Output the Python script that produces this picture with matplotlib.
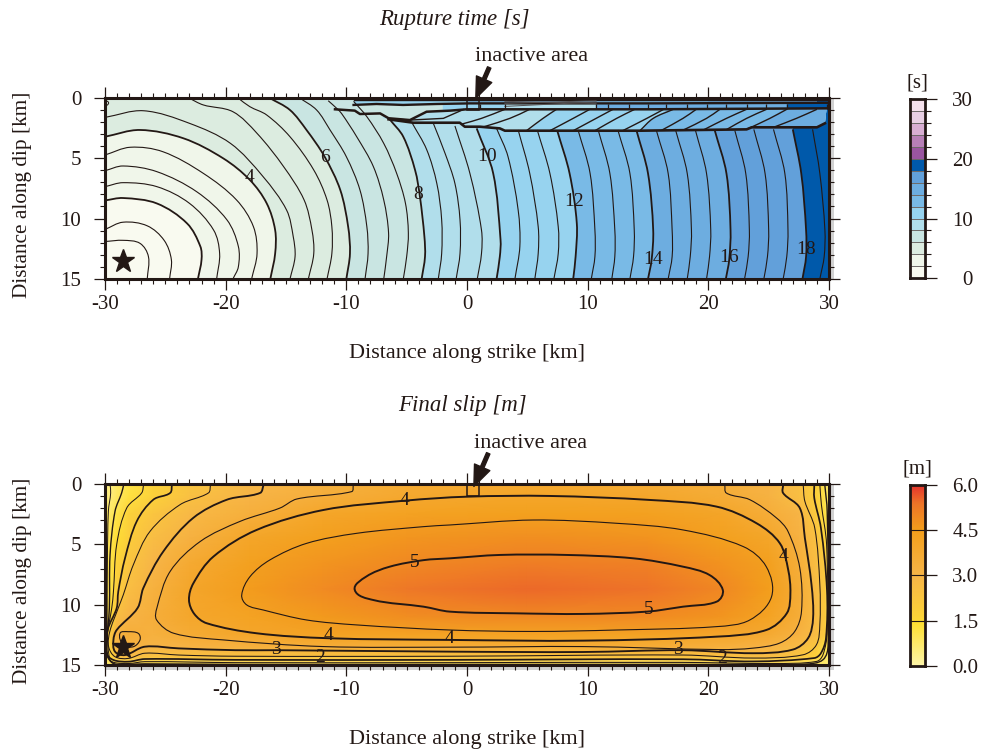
#!/usr/bin/env python3
"""plot.py - rupture time and final slip on the fault plane, two panels with colour bars."""

import numpy as np
import matplotlib
matplotlib.use("Agg")
import matplotlib.pyplot as plt
from matplotlib.colors import LinearSegmentedColormap, Normalize
from matplotlib.patches import PathPatch, Polygon, Rectangle
from matplotlib.path import Path
from matplotlib.ticker import MultipleLocator

plt.rcParams.update({
    "font.family": ["Liberation Serif", "DejaVu Serif"],
    "mathtext.fontset": "stix",
})

INK = "#231815"
SHADOW = "#d2d2d2"

# ── Rupture time: contours as (distance along strike, depth) ──
TIME_LEVELS = [1.0, 1.5, 2.0, 2.5, 3.0, 3.5, 4.0, 4.5, 5.0, 5.5, 6.0, 6.5, 7.0, 7.5, 8.0, 8.5,
               9.0, 9.5, 10.0, 10.5, 11.0, 11.5, 12.0, 12.5, 13.0, 13.5, 14.0, 14.5, 15.0, 15.5,
               16.0, 16.5, 17.0, 17.5, 18.0, 18.5]
TIME_CONTOURS = [
    [(-30, 11.9), (-28.5, 11.8), (-27.1, 12.05), (-26.4, 13.15), (-26.5, 15)],
    [(-30, 10.9), (-28.5, 10.3), (-26.5, 10.6), (-25.1, 11.8), (-24.5, 13.4), (-24.65, 15)],
    [(-30, 8.5), (-28.5, 8.3), (-25.7, 8.75), (-23.2, 10.4), (-22.1, 12.3), (-22, 13.4), (-22.3, 15)],
    [(-30, 7.36), (-28.5, 7.03), (-25.7, 7.36), (-23, 8.74), (-21, 10.95), (-20.5, 12.9), (-20.75, 15)],
    [(-30, 6.04), (-28.5, 5.65), (-25.7, 6.12), (-22.4, 7.78), (-19.9, 10.1), (-18.95, 12.3), (-18.95, 14), (-19.4, 15)],
    [(-30, 4.74), (-27.9, 4.1), (-25.2, 4.47), (-21.85, 6.26), (-19.1, 8.46), (-17.7, 10.67), (-17.4, 12.9), (-17.85, 15)],
    [(-30, 3.23), (-27.1, 2.67), (-23.5, 3.36), (-20.2, 5.02), (-18, 6.8), (-16.6, 8.74), (-15.9, 10.95), (-15.9, 12.9), (-16.3, 15)],
    [(-30, 1.63), (-26.8, 1.08), (-23, 2.12), (-19.6, 3.78), (-16.9, 6.53), (-14.95, 9.3), (-14.4, 11.5), (-14.25, 13.15), (-14.67, 15)],
    [(-23.1, 0), (-21.85, 0.6), (-19.4, 1.16), (-17.4, 2.95), (-15.2, 5.7), (-13.5, 8.46), (-12.85, 10.95), (-12.7, 12.9), (-13.15, 15)],
    [(-19, 0), (-18, 0.74), (-16.6, 1.43), (-14.67, 3.23), (-12.7, 5.98), (-11.6, 8.46), (-11.2, 10.67), (-11.2, 12.9), (-11.6, 15)],
    [(-16.4, 0), (-14.67, 1.02), (-13.3, 2.67), (-11.8, 4.88), (-10.5, 7.64), (-9.85, 10.67), (-9.7, 12.9), (-10, 15)],
    [(-13.9, 0), (-12.46, 1.02), (-11.35, 2.67), (-10, 4.88), (-8.87, 7.64), (-8.3, 10.67), (-8.2, 12.9), (-8.45, 15)],
    [(-11.5, 0.25), (-10.8, 0.88), (-10.4, 1.3), (-9.14, 3.23), (-7.76, 5.7), (-6.9, 8.46), (-6.5, 11.2), (-6.66, 13.15), (-6.9, 15)],
    [(-9.4, 0.3), (-8.3, 1.57), (-6.9, 3.78), (-5.83, 6.26), (-5.1, 8.74), (-4.86, 11.2), (-5, 13.15), (-5.28, 15)],
    [(-6.4, 1.8), (-5.28, 3.23), (-4.3, 6), (-3.9, 8.2), (-3.53, 11.5), (-3.48, 13.15), (-3.76, 15)],
    [(-4.6, 2), (-3.34, 4.3), (-2.5, 7.1), (-2.1, 10.1), (-2.1, 12.9), (-2.38, 15)],
    [(-2.8, 2.1), (-1.82, 4.6), (-1, 7.1), (-0.58, 10.1), (-0.58, 12.9), (-0.9, 15)],
    [(-1, 2.34), (0.24, 6.26), (1.2, 10.95), (1.2, 12.9), (0.85, 15)],
    [(0.8, 2.54), (2.17, 6.26), (2.78, 11.77), (2.72, 13.15), (2.45, 15)],
    [(2.45, 2.54), (3.4, 4.88), (4.24, 9.3), (4.38, 12.3), (3.97, 15)],
    [(4.24, 2.67), (5.2, 6.26), (5.9, 10.67), (5.9, 12.9), (5.62, 15)],
    [(5.82, 2.67), (6.87, 6.26), (7.56, 10.67), (7.56, 12.9), (7.2, 15)],
    [(7.5, 2.8), (8.5, 6.26), (9.1, 10.4), (9, 13.15), (8.8, 15)],
    [(9.2, 2.67), (10.2, 6.26), (10.6, 10.95), (10.6, 13.15), (10.3, 15)],
    [(10.87, 2.67), (11.84, 6.26), (12.25, 10.95), (12.25, 13.15), (12, 15)],
    [(12.5, 2.67), (13.5, 6.26), (13.86, 10.95), (13.8, 13.15), (13.5, 15)],
    [(14.05, 2.73), (15, 6.26), (15.43, 10.95), (15.3, 13.4), (15, 15)],
    [(15.7, 2.73), (16.67, 6.26), (17, 10.95), (17, 13.15), (16.67, 15)],
    [(17.3, 2.73), (18.25, 6.26), (18.6, 10.95), (18.5, 13.15), (18.25, 15)],
    [(18.94, 2.73), (19.85, 6.26), (20.2, 10.95), (20.1, 13.15), (19.85, 15)],
    [(20.54, 2.73), (21.5, 6.26), (21.84, 10.95), (21.73, 13.4), (21.45, 15)],
    [(22.2, 2.73), (23.1, 6.26), (23.4, 10.95), (23.3, 13.15), (23, 15)],
    [(23.77, 2.62), (24.7, 6.26), (25, 10.95), (24.9, 13.15), (24.6, 15)],
    [(25.4, 2.62), (26.34, 6.26), (26.6, 10.95), (26.5, 13.15), (26.2, 15)],
    [(27, 2.62), (27.7, 6.26), (28.1, 10.95), (28.1, 13.15), (27.8, 15)],
    [(28.64, 2.62), (29.24, 6.26), (29.66, 10.95), (29.6, 13.15), (29.24, 15)],
]

# the discontinuity near the surface
LOWER_BREAK = [(-6.5, 1.79), (-4.45, 2.07), (-2.8, 2.07), (-0.6, 2.07), (-0.18, 2.4), (1.07, 2.4), (2.72, 2.54),
               (3.14, 2.73), (14.33, 2.73), (23.17, 2.62), (23.6, 2.45), (29, 2.45), (29.66, 2.12)]
UPPER_BREAK = [(-10.94, 0.96), (-9.3, 1.07), (-8.87, 1.35), (-7.2, 1.3), (-6.5, 1.7), (-4.73, 1.85), (-3.35, 1.16),
               (-1.4, 1.07), (-0.04, 0.96), (15.15, 0.96), (29.8, 0.88)]
MIDDLE_BREAK = [(-6.4, 1.74), (-4.7, 1.85), (-1.96, 1.71), (-0.3, 0.98)]
STRIP_LINE = [(-9.4, 0.6), (-7.5, 0.52), (-5.3, 0.6), (-2.5, 0.52), (0.24, 0.47), (15, 0.47), (30, 0.42)]
SURFACE_LINE = [(-9.4, 0.19), (30, 0.19)]
FAN_LINES = [[(3.14, 0.3), (10.7, 0.47)], [(3.14, 0.47), (10.7, 0.25)], [(3.14, 0.72), (10.7, 0.35)]]
STRIP_TICKS_X = [1.07, 3.14, 10.7, 11.7, 13.4, 15, 16.5, 18.2, 19.9, 21.5, 23.2, 24.8, 26.5, 29.8]

SLANT_LOW = [-0.45, 1.34, 4.93, 6.87, 8.8, 10.6, 12.9, 14.33, 16.1, 17.9, 19.6, 21.5, 23.17, 25.4]
SLANT_MID = [1.2, 3.55, 6.3, 8.8, 10.7, 12.4, 14.9, 15.43, 17.9, 19.85, 21.5, 23.17, 25.1, 27.3]
SLANT_TOP = [3.14, 5.2, 7.42, 10.18, 12.1, 13.9, 16.3, 17.1, 19, 20.96, 23.17, 24.83, 26.5, 29]

TIME_EDGES = [0, 2, 4, 6, 8, 10, 12, 14, 16, 18, 20, 22, 24, 26, 28, 30]
TIME_COLORS = ["#f9faf0", "#f0f6ea", "#dcece0", "#c9e5e2", "#b1deeb", "#97d3ef", "#79bae6", "#6dade0",
               "#62a0da", "#0059aa", "#9a55a0", "#b77fb6", "#d8aed2", "#e8cfe3", "#f5e1ec"]

TIME_LABELS = ["4", "6", "8", "10", "12", "14", "16", "18"]
TIME_LABEL_X = [-18.04, -11.77, -4.03, 1.62, 8.86, 15.4, 21.7, 28.1]
TIME_LABEL_Z = [6.6, 4.94, 7.97, 4.88, 8.6, 13.37, 13.23, 12.6]

# ── Final slip: values at grid nodes and contours ──
SLIP_X = [-30, -29.5, -29, -28, -26, -23, -18, -12, -5, 5, 15, 21, 25, 27.5, 29, 29.7, 30]
SLIP_Z = [0, 1, 2.5, 4.5, 6.5, 8.7, 11, 12.5, 13.5, 14.3, 15]
SLIP_VALUES = [
    [.4, .5, .8, 1.15, 1.7, 2.25, 2.9, 3.3, 3.7, 3.85, 3.7, 3.5, 3.1, 2.6, 1.8, .95, .5],
    [.45, .55, .85, 1.25, 1.75, 2.45, 3.05, 3.45, 3.85, 4.05, 3.95, 3.6, 3.2, 2.55, 1.8, 1.1, .5],
    [.7, .85, 1.15, 1.75, 2.25, 2.8, 3.4, 4.05, 4.3, 4.45, 4.35, 4.1, 3.55, 3.05, 2.0, 1.2, .7],
    [.8, 1.1, 1.45, 1.9, 2.65, 3.25, 4.05, 4.45, 4.7, 4.85, 4.75, 4.45, 4.05, 3.25, 2.4, 1.6, .9],
    [.8, 1.2, 1.65, 2.25, 3.0, 3.75, 4.35, 4.7, 4.95, 5.2, 5.1, 4.75, 4.4, 3.5, 2.55, 2.05, .8],
    [.8, 1.2, 1.9, 2.6, 3.3, 4.0, 4.55, 4.9, 5.3, 5.5, 5.4, 5.0, 4.5, 3.6, 2.7, 2.1, .5],
    [.9, 1.5, 2.6, 3.1, 3.45, 3.95, 4.25, 4.6, 4.85, 4.95, 4.9, 4.7, 4.25, 3.55, 2.7, 2.05, 1.0],
    [1.0, 2.4, 3.2, 3.55, 3.3, 3.65, 4.0, 4.2, 4.25, 4.25, 4.2, 4.0, 3.75, 3.2, 2.65, 2.0, 1.0],
    [1.0, 2.0, 2.9, 3.2, 3.05, 3.15, 3.3, 3.5, 3.55, 3.55, 3.55, 3.35, 3.1, 2.7, 2.1, 1.2, .8],
    [.8, 1.7, 2.6, 2.7, 2.4, 2.4, 2.4, 2.4, 2.4, 2.4, 2.4, 2.4, 2.6, 2.3, 1.7, .9, .6],
    [.5, .7, .9, 1.0, .9, .85, .8, .8, .8, .8, .8, .8, .8, .8, .7, .6, .5],
]

SLIP_LEVELS = [0.5, 1.0, 1.5, 2.0, 2.5, 3.0, 3.5, 3.5, 4.0, 4.5, 5.0]
SLIP_CONTOURS = [
    [(-29.58, 0.05), (-29.53, 0.74), (-29.72, 2.26), (-29.8, 6.4), (-29.8, 12.5), (-29.6, 14.5), (-29.2, 14.95)],
    [(-28.45, 0.05), (-28.62, 0.74), (-29.17, 2.26), (-29.58, 5.85), (-29.64, 10.26), (-29.85, 13.6), (-29.6, 14.6),
     (-29, 14.93), (-26.7, 14.88), (-19, 14.93), (-1.4, 14.93), (17, 14.93), (23, 14.93), (28, 14.9), (29.5, 14.54),
     (29.93, 13.3), (29.85, 2.26), (29.65, 0.05)],
    [(-26.8, 0.05), (-26.96, 0.74), (-28.2, 1.99), (-29.03, 5), (-29.3, 8.9), (-29.44, 10.26), (-29.9, 13), (-29.8, 14.3),
     (-29.3, 14.75), (-28, 14.85), (-26.7, 14.7), (-19.2, 14.78), (-1.4, 14.78), (17.9, 14.76), (25.37, 14.85),
     (28.96, 14.68), (29.5, 14.13), (29.85, 12.2), (29.8, 5), (29.37, 1.71), (29.24, 0.05)],
    [(-24.45, 0.05), (-24.6, 0.74), (-26, 1.3), (-27.37, 3.09), (-28.34, 6.13), (-28.9, 8.9), (-29.03, 10.26), (-29.78, 12.08),
     (-29.86, 14), (-29.3, 14.56), (-28.07, 14.7), (-26.7, 14.48), (-19.2, 14.55), (-1.4, 14.55), (17.9, 14.5), (23.7, 14.68),
     (28.78, 14.4), (29.33, 14), (29.75, 12.75), (29.83, 8.75), (29.33, 3.64), (28.78, 1.16), (28.78, 0.05)],
    [(-21.25, 0.05), (-21.43, 0.74), (-23.78, 1.71), (-26.27, 3.92), (-27.65, 6.68), (-28.48, 9.16), (-28.9, 10.26), (-29.6, 12.2),
     (-29.7, 13.46), (-29.17, 14.29), (-28.07, 14.43), (-26.7, 14), (-23.9, 14.15), (-19.2, 14.25), (-1.4, 14.25), (17.9, 14.15),
     (23.7, 14.4), (27.85, 14.13), (28.96, 13.3), (29.24, 11.64), (29.24, 8.33), (28.82, 3.64), (28, 1.43), (27.86, 0.05)],
    [(-16.85, 0.05), (-17.15, 0.74), (-19.9, 1.3), (-22.68, 2.8), (-25.16, 5.57), (-26.82, 8.6), (-27.3, 10.26), (-29.03, 12.08),
     (-29.3, 12.9), (-29.17, 13.87), (-28.34, 14.15), (-26.7, 13.46), (-23.9, 13.6), (-19.2, 13.75), (-15.77, 13.75), (-1.4, 13.87),
     (9.63, 13.9), (17.9, 13.75), (23.7, 14), (27, 13.7), (28.27, 12.75), (28.68, 11.09), (28.55, 8.33), (28, 4.47), (27.58, 1.99),
     (26.2, 0.75), (26.2, 0.05)],
    [(-9.42, 0.05), (-9.56, 0.63), (-14.1, 1.24), (-15.5, 1.99), (-18.8, 3.09), (-22.1, 4.75), (-24.6, 7.23), (-25.7, 10.26),
     (-25.72, 11.25), (-24.3, 12.35), (-20.2, 12.9), (-11.9, 13.45), (-1.4, 13.5), (9.63, 13.45), (20.95, 13.7), (23.7, 13.58),
     (25.92, 13.16), (27.16, 12.2), (27.72, 10.54), (27.58, 6.95), (26.6, 3.92), (25.65, 2.81), (23.44, 1.3), (21.5, 0.75), (21.36, 0.05)],
    [(-28.76, 12.36), (-28.07, 12.22), (-27.24, 12.36), (-27.1, 12.9), (-27.65, 13.46), (-28.48, 13.32)],
    [(-23.04, 9.59), (-22.68, 8.22), (-21.02, 6.01), (-17.43, 3.8), (-11.9, 2.15), (-5.14, 1.38), (-0.03, 1.05), (6.87, 0.99),
     (15.15, 1.32), (20.68, 1.87), (24, 3.25), (25.93, 4.91), (26.62, 7.11), (26.8, 9.04), (26.5, 10.7), (24.8, 12.08),
     (20.68, 12.63), (9.63, 12.96), (-1.42, 12.9), (-11.5, 12.76), (-17.43, 12.35), (-21.57, 11.52), (-22.6, 10.75)],
    [(-18.67, 9.18), (-17.98, 7.66), (-16.33, 6.28), (-13.29, 4.91), (-9.14, 4.08), (-3.62, 3.53), (-1.42, 3.39), (5.49, 2.98),
     (12.4, 3.25), (17.9, 3.8), (22.9, 5.18), (24.8, 6.84), (25.24, 9.32), (23.44, 11.25), (20.68, 11.8), (12.4, 12.08),
     (5.49, 12.2), (-1.42, 12.08), (-9.14, 11.66), (-13.29, 11.25), (-16.9, 10.42), (-18.26, 10)],
    [(-9.3, 8.77), (-8.35, 7.66), (-6.4, 6.84), (-3.6, 6.3), (-1.42, 6.15), (2.72, 5.87), (8.25, 5.87), (13.8, 6.15),
     (17.9, 6.84), (20.1, 7.53), (21.2, 8.77), (20.7, 9.73), (17.9, 10.15), (14.9, 10.56), (9.63, 10.75), (4.1, 10.7),
     (-1.42, 10.56), (-3.6, 10.15), (-7.76, 9.6)],
]
SLIP_CLOSED = [False, False, False, False, False, False, False, True, True, True, True]
SLIP_WIDTHS = [0.7, 1.0, 0.75, 1.25, 0.75, 1.35, 0.8, 0.8, 1.4, 0.8, 1.4]

SLIP_LABELS = ["4", "5", "4", "4", "3", "2", "5", "3", "2", "4"]
SLIP_LABEL_X = [-5.14, -4.3, -11.5, -1.46, -15.8, -12.2, 15.07, 17.5, 21.1, 26.26]
SLIP_LABEL_Z = [1.38, 6.5, 12.55, 12.77, 13.68, 14.34, 10.42, 13.73, 14.42, 6.0]

SLIP_CPT_VALUES = [0.0, 1.4, 1.6, 3.0, 4.5, 5.4, 6.0]
SLIP_CPT_COLORS = ["#fdf5a8", "#ffdf33", "#fdd438", "#f7b548", "#f39f1c", "#ee7428", "#e4332d"]

STAR_X, STAR_Z = -28.48, 13.47
XTICKS = [-30, -20, -10, 0, 10, 20, 30]
XTICK_LABELS = ["-30", "-20", "-10", "0", "10", "20", "30"]
YTICKS = [0, 5, 10, 15]


# ── Helpers ─────────────────────────────────────────────────────────────────────
def curve(pts, closed=False):
    """Bezier path through the read vertices, handles scaled by the local chord."""
    p = np.asarray(pts, dtype=float)
    n = len(p)

    def tangent(i):
        if closed:
            d = p[(i + 1) % n] - p[(i - 1) % n]
        else:
            d = p[min(i + 1, n - 1)] - p[max(i - 1, 0)]
        return d / max(np.hypot(*d), 1e-9)

    verts, codes = [p[0]], [Path.MOVETO]
    for i in range(n if closed else n - 1):
        a, b = p[i], p[(i + 1) % n]
        h = np.hypot(*(b - a)) / 3
        verts += [a + tangent(i) * h, b - tangent((i + 1) % n) * h, b]
        codes += [Path.CURVE4] * 3
    return np.array(verts), codes


def draw_line(ax, pts, lw, closed=False, z=3):
    verts, codes = curve(pts, closed)
    ax.add_patch(PathPatch(Path(verts, codes), fill=False, ec=INK, lw=lw, zorder=z))


def fill_left(ax, pts, color, top_open):
    """Fill everything on the hypocentre side of one contour."""
    verts, codes = curve(pts)
    z_top = -1 if top_open else pts[0][1]
    all_v = np.vstack([[(pts[0][0], z_top)], verts, [(pts[-1][0], 16), (-31, 16), (-31, z_top), (pts[0][0], z_top)]])
    all_c = [Path.MOVETO, Path.LINETO] + codes[1:] + [Path.LINETO, Path.LINETO, Path.LINETO, Path.CLOSEPOLY]
    ax.add_patch(PathPatch(Path(all_v, all_c), fc=color, ec=color, lw=0.3, zorder=1))


def clipped_fill(ax, corners, color, clip):
    poly = Polygon(corners, closed=True, fc=color, ec=color, lw=0.3, zorder=1.5)
    ax.add_patch(poly)
    poly.set_clip_path(clip)


def frame(ax):
    ax.set_xlim(-30, 30)
    ax.set_ylim(15, 0)
    ax.set_xticks(XTICKS)
    ax.set_xticklabels(XTICK_LABELS)
    ax.set_yticks(YTICKS)
    ax.xaxis.set_minor_locator(MultipleLocator(1))
    ax.yaxis.set_minor_locator(MultipleLocator(1))
    ax.tick_params(which="major", length=8, width=0.9, color=INK, top=True, right=True, labelsize=15,
                   labelcolor=INK)
    ax.tick_params(axis="x", which="major", pad=3.5)
    ax.tick_params(axis="y", which="major", pad=9)
    ax.tick_params(which="minor", length=3.8, width=0.8, color=INK, top=True, right=True)
    for s in ax.spines.values():
        s.set_linewidth(2.2)
        s.set_color(INK)
        s.set_zorder(8)
    ax.set_xlabel("Distance along strike [km]", fontsize=16, color=INK, va="center")
    ax.xaxis.set_label_coords(0.5, -0.41)
    ax.set_ylabel("Distance along dip [km]", fontsize=15.3, color=INK, va="center")
    ax.yaxis.set_label_coords(-0.1146, 0.464)


def inactive_note(ax, tip, tail, text_xy):
    ax.add_patch(Rectangle((0, 0), 1, 1.02, fill=False, ec=INK, lw=1.1, zorder=6))
    ax.annotate("", xy=tip, xytext=tail, annotation_clip=False, zorder=9,
                arrowprops=dict(fc=INK, ec=INK, width=2.6, headwidth=12, headlength=15, shrink=0))
    ax.text(text_xy[0], text_xy[1], "inactive area", fontsize=16, color=INK, ha="center", va="center", clip_on=False)


def shadow(ax, bottom=False):
    ax.add_patch(Rectangle((30.1, 0), 0.35, 15.4 if bottom else 15, fc=SHADOW, ec="none", clip_on=False, zorder=0))
    if bottom:
        ax.add_patch(Rectangle((-30, 15.1), 60.4, 0.3, fc=SHADOW, ec="none", clip_on=False, zorder=0))


def contour_labels(ax, labels, xs, zs):
    for t, x, z in zip(labels, xs, zs):
        ax.text(x, z, t, fontsize=14, color=INK, ha="center", va="center", zorder=7)


def panel_title(ax, text, x, z):
    ax.text(x, z, text, fontsize=16.5, style="italic", color=INK, ha="center", va="center", clip_on=False)


# ── Panels ──────────────────────────────────────────────────────────────────────
def time_panel(fig):
    ax = fig.add_axes([105 / 984, 1 - 279 / 753, 724 / 984, 181.3 / 753])
    ax.set_facecolor(TIME_COLORS[9])

    # painted from the late side to the early side
    for lev, pts in reversed(list(zip(TIME_LEVELS, TIME_CONTOURS))):
        if lev % 2 == 0:
            fill_left(ax, pts, TIME_COLORS[int(lev / 2) - 1], top_open=lev >= 8)

    band = Polygon(UPPER_BREAK + LOWER_BREAK[::-1], closed=True, transform=ax.transData)
    for lo, mi, to, col in [(-7, -7, -7, TIME_COLORS[4]),
                            (SLANT_LOW[2], SLANT_MID[2], SLANT_TOP[2], TIME_COLORS[5]),
                            (SLANT_LOW[7], SLANT_MID[7], SLANT_TOP[7], TIME_COLORS[6]),
                            (SLANT_LOW[12], SLANT_MID[12], SLANT_TOP[12], TIME_COLORS[7])]:
        clipped_fill(ax, [(lo, 2.9), (mi, 1.71), (to, 0.8), (31, 0.8), (31, 2.9)], col, band)

    strip = Polygon(STRIP_LINE + [(29.8, 0.88)] + UPPER_BREAK[::-1][1:], closed=True, transform=ax.transData)
    for x0, col in [(-9.4, TIME_COLORS[3]), (-2, TIME_COLORS[5]), (3.14, TIME_COLORS[4]), (10.7, TIME_COLORS[7]),
                    (26.5, TIME_COLORS[9])]:
        clipped_fill(ax, [(x0, 0.3), (31, 0.3), (31, 2.1), (x0, 2.1)], col, strip)
    for x0, x1, col in [(-9.4, 0, TIME_COLORS[5]), (0, 20, TIME_COLORS[6]), (20, 29, TIME_COLORS[7]),
                        (29, 30, TIME_COLORS[9])]:
        ax.fill_between([x0, x1], 0, 0.5, color=col, lw=0, zorder=1.2)

    for lev, pts in zip(TIME_LEVELS, TIME_CONTOURS):
        draw_line(ax, pts, 1.3 if lev % 2 == 0 else 0.8)

    for lo, mi, to in zip(SLANT_LOW, SLANT_MID, SLANT_TOP):
        low_z = np.interp(lo, [p[0] for p in LOWER_BREAK], [p[1] for p in LOWER_BREAK])
        draw_line(ax, [(lo, low_z), (mi, 1.71), (to, 0.96)], 1.0)
    for line, lw in [(LOWER_BREAK, 1.9), (UPPER_BREAK, 1.8), (MIDDLE_BREAK, 1.0), (STRIP_LINE, 1.7), (SURFACE_LINE, 1.0)]:
        ax.plot(*zip(*line), color=INK, lw=lw, zorder=4, solid_joinstyle="round")
    for line in FAN_LINES:
        ax.plot(*zip(*line), color="#555050", lw=0.7, zorder=4)
    ax.vlines(STRIP_TICKS_X, 0.5, 0.95, color=INK, lw=0.9, zorder=4)
    draw_line(ax, [(-30, 0.2), (-29.7, 0.42), (-29.95, 0.74)], 0.7)

    ax.plot(STAR_X, STAR_Z, marker="*", ms=17, color=INK, mec=INK, zorder=6)
    contour_labels(ax, TIME_LABELS, TIME_LABEL_X, TIME_LABEL_Z)
    frame(ax)
    shadow(ax)
    inactive_note(ax, (0.73, 0.05), (1.84, -2.5), (5.38, -3.38))
    panel_title(ax, "Rupture time [s]", -1.04, -6.43)
    return ax


def slip_panel(fig, cmap, norm):
    ax = fig.add_axes([105 / 984, 1 - 665.3 / 753, 724 / 984, 181.3 / 753])
    ax.pcolormesh(SLIP_X, SLIP_Z, np.array(SLIP_VALUES), cmap=cmap, norm=norm, shading="gouraud", zorder=1)
    for lw, pts, closed in zip(SLIP_WIDTHS, SLIP_CONTOURS, SLIP_CLOSED):
        draw_line(ax, pts, lw, closed)
    ax.plot(STAR_X, STAR_Z, marker="*", ms=17, color=INK, mec=INK, zorder=6)
    contour_labels(ax, SLIP_LABELS, SLIP_LABEL_X, SLIP_LABEL_Z)
    frame(ax)
    shadow(ax, bottom=True)
    inactive_note(ax, (0.57, 0.2), (1.76, -2.54), (5.3, -3.33))
    panel_title(ax, "Final slip [m]", -0.38, -6.46)
    return ax


def bar_frame(cax, major, minor, labels, unit, label_pad):
    cax.set_xticks([])
    cax.yaxis.tick_right()
    cax.set_yticks(major)
    cax.set_yticklabels(labels, ha="right")
    cax.set_yticks(minor, minor=True)
    cax.tick_params(which="major", length=8.5, width=0.9, color=INK, labelsize=15, labelcolor=INK, pad=label_pad)
    cax.tick_params(which="minor", length=4.5, width=0.8, color=INK)
    for s in cax.spines.values():
        s.set_linewidth(2.0)
        s.set_color(INK)
    cax.set_title(unit, fontsize=15, color=INK, pad=8)


def time_bar(fig):
    cax = fig.add_axes([910 / 984, 1 - 278.3 / 753, 15 / 984, 179.3 / 753])
    cax.bar(0, np.diff(TIME_EDGES), bottom=TIME_EDGES[:-1], width=1, color=TIME_COLORS)
    cax.hlines(TIME_EDGES[1:-1], -0.5, 0.5, color="#6e6a68", lw=0.7)
    cax.set_xlim(-0.5, 0.5)
    cax.set_ylim(0, 30)
    bar_frame(cax, [0, 10, 20, 30], [2, 4, 6, 8, 12, 14, 16, 18, 22, 24, 26, 28], ["0", "10", "20", "30"], "[s]", 26)


def slip_bar(fig, cmap, norm):
    cax = fig.add_axes([910 / 984, 1 - 665.7 / 753, 15 / 984, 180.7 / 753])
    cax.imshow(np.linspace(6, 0, 256)[:, None], cmap=cmap, norm=norm, aspect="auto", extent=[0, 1, 0, 6])
    cax.hlines([1.5, 3.0, 4.5], 0, 1, color=INK, lw=0.8)
    bar_frame(cax, [0, 1.5, 3, 4.5, 6], [], ["0.0", "1.5", "3.0", "4.5", "6.0"], "[m]", 30)


def main():
    fig = plt.figure(figsize=(9.84, 7.53), dpi=100)
    nodes = [v / SLIP_CPT_VALUES[-1] for v in SLIP_CPT_VALUES]
    cmap = LinearSegmentedColormap.from_list("slip", list(zip(nodes, SLIP_CPT_COLORS)))
    norm = Normalize(0, 6)

    time_panel(fig)
    slip_panel(fig, cmap, norm)
    time_bar(fig)
    slip_bar(fig, cmap, norm)
    fig.savefig("out.png", dpi=100)


if __name__ == "__main__":
    main()
